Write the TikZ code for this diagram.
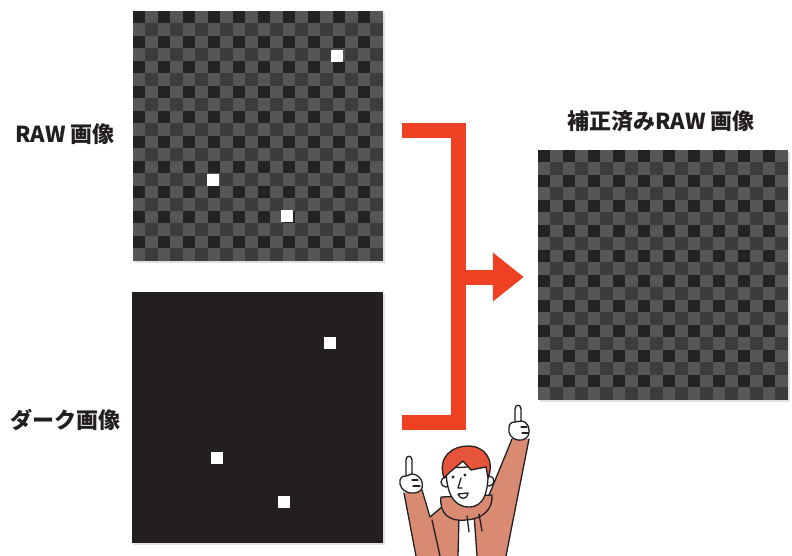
\documentclass[tikz,border=0pt]{standalone}
\usepackage{fontspec}
\newfontfamily\jpfont{Noto Sans CJK JP}
\usetikzlibrary{arrows.meta,shadows}

\definecolor{pxdark}{HTML}{232323}
\definecolor{pxmid}{HTML}{565656}
\definecolor{pxdeep}{HTML}{3C3C3C}
\definecolor{inkblack}{HTML}{231F20}
\definecolor{markred}{HTML}{EE4023}
\definecolor{hoodie}{HTML}{D98A72}
\definecolor{hair}{HTML}{E6553A}

\tikzset{
  board/.style={minimum size=250pt, inner sep=0pt, fill=pxmid,
    drop shadow={shadow xshift=1.5pt, shadow yshift=-1.5pt, opacity=.25}},
  darkboard/.style={board, fill=inkblack},
  lbl/.style={font=\jpfont\bfseries\fontsize{22}{26}\selectfont, text=inkblack},
  bracket/.style={draw=markred, line width=15pt, line join=miter},
  hotpx/.style={fill=white}
}

% 20x20 cells of 12.5pt, dark on even/even, deep on odd/odd
\newcommand\checker[1]{%
  \foreach \r in {0,2,...,18}
    \foreach \c in {0,2,...,18}
      \fill[pxdark] ([shift={(\c*12.5,\r*12.5)}]#1.north west) rectangle +(12.5,12.5);
  \foreach \r in {1,3,...,19}
    \foreach \c in {1,3,...,19}
      \fill[pxdeep] ([shift={(\c*12.5,\r*12.5)}]#1.north west) rectangle +(12.5,12.5);
}
% white 12pt pixel at offset from the board corner
\newcommand\hotpixel[3]{%
  \fill[hotpx] ([shift={(#2,#3)}]#1.north west) rectangle +(12,12);
}

\begin{document}
\begin{tikzpicture}[x=1pt,y=-1pt]
\useasboundingbox (0,0) rectangle (792,555);

  % images
  \node[board] (raw) at (258,136) {};
  \node[darkboard, minimum size=251pt] (dark) at (257.5,417.5) {};
  \node[board] (fixed) at (663,275) {};
  \checker{raw}
  \checker{fixed}
  \hotpixel{raw}{198}{39}
  \hotpixel{raw}{74}{163}
  \hotpixel{raw}{148}{199}
  \hotpixel{dark}{192}{45}
  \hotpixel{dark}{79}{160}
  \hotpixel{dark}{146}{204}

  % labels
  \node[lbl] (rawlbl) at (65,134) {RAW 画像};
  \node[lbl] (darklbl) at (65,420) {ダーク画像};
  \node[lbl] (fixedlbl) at (661,121) {補正済みRAW 画像};

  % bracket + arrow
  \coordinate (brtop) at (402,130);
  \coordinate (brbot) at (402,422.5);
  \coordinate (brjoin) at (458.5,277);
  \draw[bracket] (brtop) -| (brjoin) |- (brbot);
  \draw[bracket, -{Triangle[length=31pt 0 0,width=47pt 0 0]}]
    (brjoin) -- ([xshift=-14pt,yshift=-2pt]fixed.west);

  % pointing guy
  \begin{scope}[line width=1.3pt, draw=inkblack, line join=round, line cap=round]
  \clip (0,0) rectangle (792,555);
  % jacket and sleeves
  \fill[hoodie] (404,493) -- (416,556) -- (506,556) -- (529,439) -- (512,439)
    -- (487,500) -- (443,505) -- (430,517) -- (422,490) -- cycle;
  \draw (404,493) -- (416,556);
  \draw (422,490) -- (430,517) -- (443,506);
  \draw (529,439) -- (506,556);
  \draw (512,439) -- (487,500);
  \draw (432,520) -- (440,556);
  % shirt
  \fill[white] (459,516) -- (474,514) -- (477,556) -- (458,556) -- cycle;
  \draw (459,516) -- (458,556);
  \draw (474,514) -- (477,556);
  % hood
  \filldraw[fill=hoodie] (441,497) .. controls (439,514) and (450,522) .. (466,520)
    .. controls (482,519) and (493,510) .. (492,495) -- cycle;
  \draw (467,516) -- (469,532);
  \draw (479,514) -- (482,531);
  % ears and face
  \filldraw[fill=white] (446,482) circle (5);
  \filldraw[fill=white] (489,481) circle (5);
  \filldraw[fill=white] (446,468) .. controls (446,490) and (452,507) .. (469,507)
    .. controls (484,507) and (489,492) .. (488,466) -- cycle;
  % hair
  \filldraw[fill=hair] (444,478) .. controls (437,456) and (453,446) .. (468,446)
    .. controls (485,446) and (495,460) .. (488,478) -- (486,467)
    -- (471,470) -- (463,461) -- (450,472) -- cycle;
  % eyes, nose, mouth
  \fill[inkblack] (453,477) circle (1.6);
  \fill[inkblack] (465,475) circle (1.6);
  \draw (461,478) -- (458,488) -- (462,488);
  \filldraw[fill=white] (458,494) .. controls (460,500) and (467,500) .. (468,493) -- cycle;
  % left hand
  \filldraw[fill=white] (406,480) -- (406,460) .. controls (406,455) and (412,455) .. (412,460) -- (412,480);
  \filldraw[fill=white] (400,480) .. controls (398,492) and (414,497) .. (421,490)
    .. controls (425,484) and (420,474) .. (412,474) -- (406,476) .. controls (402,476) and (400,478) .. (400,480);
  \draw (412,480) -- (418,480);
  \draw (413,486) -- (420,486);
  % right hand
  \filldraw[fill=white] (515,426) -- (515,409) .. controls (515,404) and (521,404) .. (521,409) -- (521,426);
  \filldraw[fill=white] (509,428) .. controls (507,440) and (523,444) .. (528,436)
    .. controls (531,430) and (528,421) .. (521,421) -- (515,422) .. controls (511,422) and (509,424) .. (509,428);
  \draw (521,427) -- (527,427);
  \draw (522,433) -- (528,433);
  \end{scope}

\end{tikzpicture}
\end{document}
